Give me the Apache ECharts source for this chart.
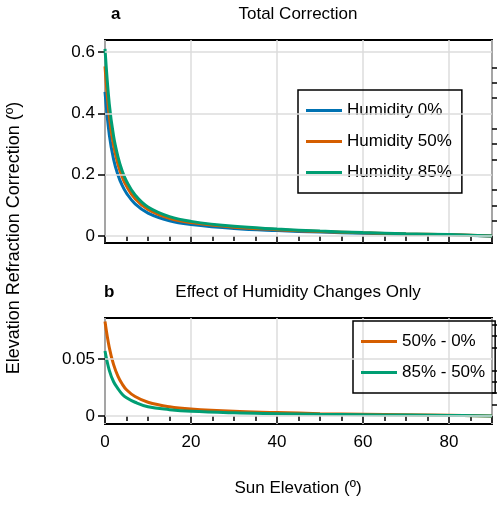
<!DOCTYPE html>
<html>
<head>
<meta charset="utf-8">
<script src="https://cdn.jsdelivr.net/npm/echarts@6/dist/echarts.min.js"></script>
<style>html,body{margin:0;padding:0;background:#fff}#main{width:500px;height:505px}</style>
</head>
<body>
<div id="main"></div>
<script>
// sun elevation (deg)
var elev = [0, 1, 2, 3, 4, 5, 7, 10, 15, 20, 30, 40, 50, 60, 70, 80, 90];
// total correction per humidity
var hum0 = [0.47, 0.33, 0.25, 0.2, 0.165, 0.14, 0.105, 0.075, 0.05, 0.038, 0.025, 0.018, 0.013, 0.009, 0.006, 0.004, 0];
var hum50 = [0.553, 0.39, 0.295, 0.235, 0.193, 0.163, 0.122, 0.087, 0.058, 0.044, 0.029, 0.021, 0.015, 0.0105, 0.007, 0.0045, 0];
var hum85 = [0.61, 0.43, 0.325, 0.259, 0.212, 0.179, 0.134, 0.095, 0.0635, 0.048, 0.0317, 0.023, 0.0164, 0.0115, 0.0077, 0.0049, 0];
// differences
var d50_0 = [0.083, 0.06, 0.045, 0.035, 0.028, 0.023, 0.017, 0.012, 0.008, 0.006, 0.004, 0.003, 0.002, 0.0015, 0.001, 0.0005, 0];
var d85_50 = [0.057, 0.04, 0.03, 0.024, 0.019, 0.016, 0.012, 0.008, 0.0055, 0.004, 0.0027, 0.002, 0.0014, 0.001, 0.0007, 0.0004, 0];
// tick values
var topMajor = [0, 0.2, 0.4, 0.6];
var topMinor = [0.05, 0.1, 0.15, 0.25, 0.3, 0.35, 0.45, 0.5, 0.55];
var botMajor = [0, 0.05];
var botMinor = [0.01, 0.02, 0.03, 0.04, 0.06, 0.07, 0.08];

var blue = '#0072b2', orange = '#d55e00', green = '#009e73';
var font = 'Liberation Sans';

function pairs(ys) {
    return elev.map(function (x, i) { return [x, ys[i]]; });
}

var chart = echarts.init(document.getElementById('main'));

function xAxis(gi, showLabel) {
    return {
        type: 'value', gridIndex: gi, min: 0, max: 90, interval: 20,
        axisLine: { show: false },
        axisTick: { show: true, length: 7, lineStyle: { color: '#000', width: 1.5 } },
        minorTick: { show: true, splitNumber: 4, length: 5, lineStyle: { color: '#000', width: 1.5 } },
        splitLine: { show: true, lineStyle: { color: '#ddd', width: 1.5 } },
        axisLabel: { show: showLabel, color: '#000', fontSize: 17, fontFamily: font, margin: 10,
            formatter: function (v) { return v > 85 ? '' : v; } }
    };
}
function yAxis(gi, min, max, ticks, len, fmt) {
    return {
        type: 'value', gridIndex: gi, min: min, max: max,
        axisLine: { show: false },
        axisTick: { show: true, length: len, customValues: ticks, lineStyle: { color: '#000', width: 1.5 } },
        splitLine: { show: false },
        axisLabel: { show: !!fmt, customValues: ticks, color: '#000', fontSize: 17, fontFamily: font, margin: 10,
            formatter: fmt }
    };
}
function line(name, data, color, xi, yi) {
    return { name: name, type: 'line', xAxisIndex: xi, yAxisIndex: yi, data: data, smooth: 0.4,
        showSymbol: false, lineStyle: { color: color, width: 3 }, itemStyle: { color: color } };
}
function gridLines(vals) {
    return { silent: true, symbol: 'none', label: { show: false },
        lineStyle: { color: '#ddd', width: 1.5, type: 'solid' },
        data: vals.map(function (v) { return { yAxis: v }; }) };
}

var s = [
    line('Humidity 0%', pairs(hum0), blue, 0, 0),
    line('Humidity 50%', pairs(hum50), orange, 0, 0),
    line('Humidity 85%', pairs(hum85), green, 0, 0),
    line('50% - 0%', pairs(d50_0), orange, 1, 2),
    line('85% - 50%', pairs(d85_50), green, 1, 2)
];
s[0].markLine = gridLines(topMajor);
s[3].markLine = gridLines(botMajor);
s[0].z = 1; s[3].z = 1;

chart.setOption({
    animation: false,
    grid: [
        { left: 105, top: 40, width: 387, height: 203, show: true, borderColor: '#000', borderWidth: 2 },
        { left: 105, top: 318, width: 387, height: 106, show: true, borderColor: '#000', borderWidth: 2 }
    ],
    xAxis: [xAxis(0, false), xAxis(1, true)],
    yAxis: [
        yAxis(0, -0.0225, 0.639, topMajor, 7, function (v) { return v === 0 ? '0' : v.toFixed(1); }),
        yAxis(0, -0.0225, 0.639, topMinor, 5, null),
        yAxis(1, -0.0071, 0.086, botMajor, 7, function (v) { return v === 0 ? '0' : v.toFixed(2); }),
        yAxis(1, -0.0071, 0.086, botMinor, 5, null)
    ],
    legend: [
        { data: ['Humidity 0%', 'Humidity 50%', 'Humidity 85%'], orient: 'vertical', left: 298, top: 90,
            itemWidth: 36, itemHeight: 3, itemGap: 14, padding: [12, 10, 12, 8], borderColor: '#000', borderWidth: 1.5,
            borderRadius: 0, icon: 'rect', textStyle: { fontSize: 17, fontFamily: font, color: '#000' } },
        { data: ['50% - 0%', '85% - 50%'], orient: 'vertical', left: 353, top: 321,
            itemWidth: 36, itemHeight: 3, itemGap: 14, padding: [12, 10, 12, 8], borderColor: '#000', borderWidth: 1.5,
            borderRadius: 0, icon: 'rect', textStyle: { fontSize: 17, fontFamily: font, color: '#000' } }
    ],
    series: s,
    graphic: [
        { type: 'text', left: 111, top: 6, style: { text: 'a', font: 'bold 17px ' + font, fill: '#000' } },
        { type: 'text', x: 298, y: 6, style: { text: 'Total Correction', font: '17px ' + font, fill: '#000', align: 'center' } },
        { type: 'text', left: 104, top: 284, style: { text: 'b', font: 'bold 17px ' + font, fill: '#000' } },
        { type: 'text', x: 298, y: 284, style: { text: 'Effect of Humidity Changes Only', font: '17px ' + font, fill: '#000', align: 'center' } },
        { type: 'text', x: 298, y: 480, style: { text: 'Sun Elevation (º)', font: '17px ' + font, fill: '#000', align: 'center' } },
        { type: 'text', x: 5, y: 238, rotation: Math.PI / 2,
            style: { text: 'Elevation Refraction Correction (º)', font: '18px ' + font, fill: '#000', align: 'center', verticalAlign: 'top' } }
    ]
});
</script>
</body>
</html>
